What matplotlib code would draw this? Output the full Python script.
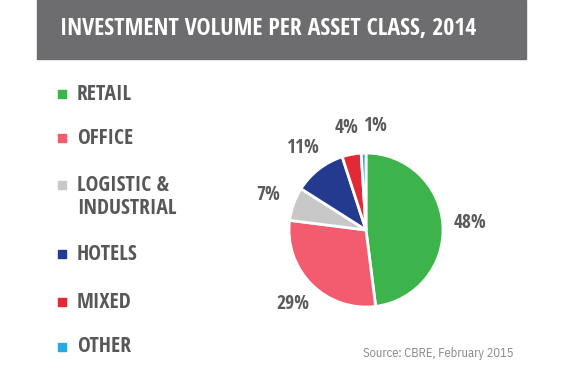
import matplotlib
matplotlib.use("Agg")
import matplotlib.pyplot as plt
from matplotlib.patches import Rectangle

title = "INVESTMENT VOLUME PER ASSET CLASS, 2014"
categories = ["RETAIL", "OFFICE", "LOGISTIC &\nINDUSTRIAL", "HOTELS", "MIXED", "OTHER"]
values = [48, 29, 7, 11, 4, 1]
colors = ["#3cb44b", "#f25c6e", "#c8c8c8", "#243a8e", "#e12a35", "#27a9e1"]
source = "Source: CBRE, February 2015"

W, H = 561, 374
fig = plt.figure(figsize=(W / 100, H / 100), dpi=100)
ax = fig.add_axes([0, 0, 1, 1])
ax.set_xlim(0, W)
ax.set_ylim(0, H)
ax.set_aspect("equal")
ax.axis("off")

FONT = ["Open Sans Condensed", "IBM Plex Sans Condensed", "DejaVu Sans"]
FONT_REG = ["IBM Plex Sans Condensed", "DejaVu Sans"]

# header bar
ax.add_patch(Rectangle((37, H - 59), 489, 59, color="#6d6d6f", zorder=1))
ax.text(60, H - 29, title, color="white", fontsize=17.2, fontweight="bold",
        family=FONT, va="center", ha="left", zorder=2)

# pie
wedges, texts = ax.pie(values, colors=colors, startangle=90, counterclock=False,
                       center=(366, H - 230), radius=77, frame=True,
                       labels=[f"{v}%" for v in values], labeldistance=1.35,
                       wedgeprops=dict(edgecolor="white", linewidth=2))
for i, t in enumerate(texts):
    t.set_fontsize(14)
    t.set_color("#5a5a5a")
    t.set_family(FONT)
    t.set_fontweight("bold")
    t.set_ha("left" if i == len(texts) - 1 else "center")
    t.set_va("center")
ax.set_xlim(0, W)
ax.set_ylim(0, H)
ax.axis("off")

# legend
row_y = [94, 138, 185, 254, 302, 347]
for cat, col, y in zip(categories, colors, row_y):
    ax.scatter([62], [H - y], marker="s", s=28, color=col, zorder=3)
    multi = "\n" in cat
    ax.text(77, H - y + (10 if multi else 0), cat, color="#58585a", fontsize=15.5,
            fontweight="bold", family=FONT, va="top" if multi else "center",
            ha="left", linespacing=1.15)

ax.text(363, H - 353, source, color="#8a8a8a", fontsize=9, family=FONT_REG,
        va="center", ha="left")

fig.savefig("out.png", dpi=100)
